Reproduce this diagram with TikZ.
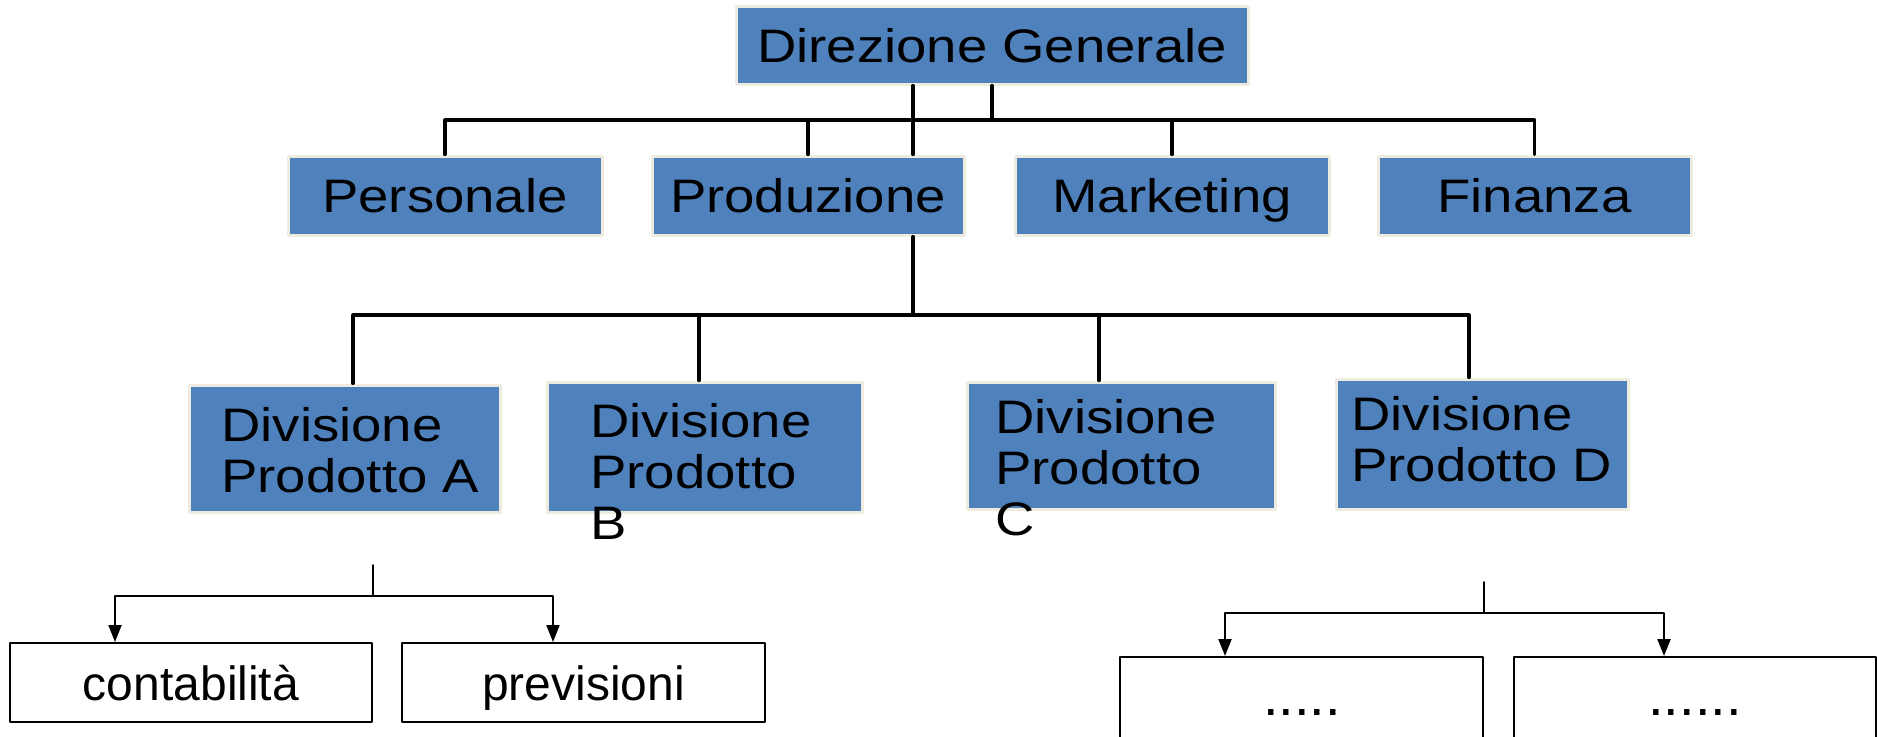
\documentclass[tikz,border=0pt]{standalone}
\usepackage{xcolor}
\usepackage{fontspec}
\setmainfont{Liberation Sans}
\newfontfamily\unitfont{Liberation Sans}[FakeStretch=1.16]
\usepackage{tikz}
\usetikzlibrary{arrows.meta}
\definecolor{unitblue}{rgb}{0.30980392156862746,0.5058823529411764,0.7411764705882353}
\definecolor{unitrim}{rgb}{0.9333333333333333,0.9254901960784314,0.8823529411764706}
\tikzset{
    unitbox/.style={draw=unitrim,line width=1.5pt,fill=unitblue,inner sep=0pt,text height=17pt,text depth=0pt,font=\unitfont\fontsize{23.5pt}{25.5pt}\selectfont},
    divtext/.style={anchor=north west,inner sep=0pt,align=left,font=\unitfont\fontsize{23.5pt}{25.5pt}\selectfont},
    leafbox/.style={draw=black,line width=1pt,fill=white,inner sep=0pt,text height=17.5pt,text depth=0pt,font=\fontsize{24pt}{28pt}\selectfont},
    dotstext/.style={anchor=base,inner sep=0pt,font=\fontsize{28pt}{30pt}\selectfont},
    conn/.style={line width=1.6pt,color=black},
    leafline/.style={line width=1pt,color=black}
}

\begin{document}
\begin{tikzpicture}[line cap=round,line join=round,>={Triangle[width=6.5pt,length=8.5pt]},x=0.5pt,y=-0.5pt]
            \useasboundingbox (0,0) rectangle (1877,736);
            \clip (0,0) rectangle (1877,736);
            \node[unitbox,minimum width=256pt,minimum height=39pt] (dir) at (992,45) {Direzione Generale};
            \node[unitbox,minimum width=157pt,minimum height=39.5pt] (pers) at (445,195.5) {Personale};
            \node[unitbox,minimum width=156pt,minimum height=39.5pt] (prod) at (808,195.5) {Produzione};
            \node[unitbox,minimum width=157pt,minimum height=39.5pt] (mark) at (1172,195.5) {Marketing};
            \node[unitbox,minimum width=156.5pt,minimum height=39.5pt] (fin) at (1534.5,195.5) {Finanza};
            \coordinate (bus1) at (0,120);
            \coordinate (jP) at (913,0);
            \draw [conn] (pers.north) -- (pers.north |- bus1) -- (fin.north |- bus1) -- (fin.north);
            \draw [conn] (prod.north) -- (prod.north |- bus1);
            \draw [conn] (mark.north) -- (mark.north |- bus1);
            \draw [conn] (dir.south) -- (dir.south |- bus1);
            \draw [conn] (dir.south -| jP) -- (prod.north -| jP);
            \node[unitbox,minimum width=155.5pt,minimum height=63.5pt] (divA) at (344.5,448.5) {};
            \node[unitbox,minimum width=157.5pt,minimum height=65pt] (divB) at (704.5,447) {};
            \node[unitbox,minimum width=154pt,minimum height=63.5pt] (divC) at (1121,445.5) {};
            \node[unitbox,minimum width=146pt,minimum height=65pt] (divD) at (1482,444) {};
            \node[divtext] (txtA) at (221,407) {Divisione\\Prodotto A};
            \node[divtext] (txtB) at (590,403) {Divisione\\Prodotto\\B};
            \node[divtext] (txtC) at (995,399) {Divisione\\Prodotto\\C};
            \node[divtext] (txtD) at (1351,396) {Divisione\\Prodotto D};
            \coordinate (bus2) at (0,315);
            \coordinate (tA) at (353,315);
            \coordinate (tB) at (699,315);
            \coordinate (tC) at (1099,315);
            \coordinate (tD) at (1469,315);
            \draw [conn] (prod.south -| jP) -- (bus2 -| jP);
            \draw [conn] (divA.north -| tA) -- (tA) -- (tD) -- (divD.north -| tD);
            \draw [conn] (tB) -- (divB.north -| tB);
            \draw [conn] (tC) -- (divC.north -| tC);
            \node[leafbox,minimum width=181pt,minimum height=39.5pt] (cont) at (191,682.5) {contabilità};
            \node[leafbox,minimum width=181.5pt,minimum height=39.5pt] (prev) at (583.5,682.5) {previsioni};
            \coordinate (vL) at (373,565);
            \coordinate (jL) at (373,596);
            \coordinate (aL) at (115,596);
            \coordinate (bL) at (553,596);
            \draw [leafline] (vL) -- (jL);
            \draw [leafline,<->] (cont.north -| aL) -- (aL) -- (bL) -- (prev.north -| bL);
            \node[leafbox,minimum width=181.5pt,minimum height=41.5pt] (subL) at (1301.5,698.5) {};
            \node[leafbox,minimum width=181pt,minimum height=41.5pt] (subR) at (1695,698.5) {};
            \node[dotstext] (dotsL) at (1302,715) {.....};
            \node[dotstext] (dotsR) at (1695,715) {......};
            \coordinate (vR) at (1484,582);
            \coordinate (jR) at (1484,613);
            \coordinate (aR) at (1225,613);
            \coordinate (bR) at (1664,613);
            \draw [leafline] (vR) -- (jR);
            \draw [leafline,<->] (subL.north -| aR) -- (aR) -- (bR) -- (subR.north -| bR);
        \end{tikzpicture}
\end{document}
